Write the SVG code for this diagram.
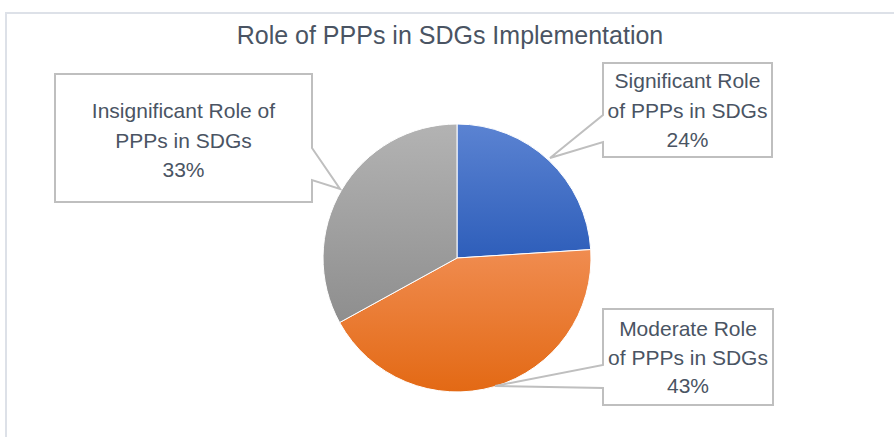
<svg xmlns="http://www.w3.org/2000/svg" width="894" height="437" viewBox="0 0 894 437">
  <style>
    .txt { font-family: "Liberation Sans", Arial, sans-serif; fill: #4a5463; text-anchor: middle; }
    .title { font-size: 25px; }
    .lbl { font-size: 21px; }
    .callout { fill: #ffffff; stroke: #bfbfbf; stroke-width: 2; }
    .slice { stroke: #ffffff; stroke-width: 1; }
  </style>
  <defs>
    <linearGradient id="gBlue" x1="0" y1="0" x2="0" y2="1">
      <stop offset="0" stop-color="#5b83d2"/>
      <stop offset="1" stop-color="#2e5eba"/>
    </linearGradient>
    <linearGradient id="gOrange" x1="0" y1="0" x2="0" y2="1">
      <stop offset="0" stop-color="#f08c50"/>
      <stop offset="1" stop-color="#e36914"/>
    </linearGradient>
    <linearGradient id="gGray" x1="0" y1="0" x2="0" y2="1">
      <stop offset="0" stop-color="#b3b3b3"/>
      <stop offset="1" stop-color="#8e8e8e"/>
    </linearGradient>
  </defs>
  <rect x="0" y="0" width="894" height="437" fill="#ffffff"/>
  <path d="M6,437 V13 H894" fill="none" stroke="#dde1e8" stroke-width="2"/>
  <text class="txt title" x="450" y="44">Role of PPPs in SDGs Implementation</text>

  <g id="pie">
    <path id="slice-significant" class="slice" fill="url(#gBlue)" d="M457,258 L457,124 A134,134 0 0,1 590.74,249.59 Z"/>
    <path id="slice-moderate" class="slice" fill="url(#gOrange)" d="M457,258 L590.74,249.59 A134,134 0 0,1 339.60,322.55 Z"/>
    <path id="slice-insignificant" class="slice" fill="url(#gGray)" d="M457,258 L339.60,322.55 A134,134 0 0,1 457,124 Z"/>
  </g>

  <g id="connectors"></g>

  <g id="label-insignificant">
    <path class="callout" d="M55,74 H312 V148 L340,189 L312,180 V202 H55 Z"/>
    <text class="txt lbl" x="183.5" y="118">Insignificant Role of</text>
    <text class="txt lbl" x="183.5" y="148">PPPs in SDGs</text>
    <text class="txt lbl" x="183.5" y="177">33%</text>
  </g>

  <g id="label-significant">
    <path class="callout" d="M603,63 H772 V157 H603 V142 L550,158 L603,115 Z"/>
    <text class="txt lbl" x="687.5" y="88">Significant Role</text>
    <text class="txt lbl" x="687.5" y="118">of PPPs in SDGs</text>
    <text class="txt lbl" x="687.5" y="147">24%</text>
  </g>

  <g id="label-moderate">
    <path class="callout" d="M603,309 H773 V405 H603 V388 L495,386 L603,365 Z"/>
    <text class="txt lbl" x="688" y="336">Moderate Role</text>
    <text class="txt lbl" x="688" y="365">of PPPs in SDGs</text>
    <text class="txt lbl" x="688" y="393">43%</text>
  </g>
</svg>
